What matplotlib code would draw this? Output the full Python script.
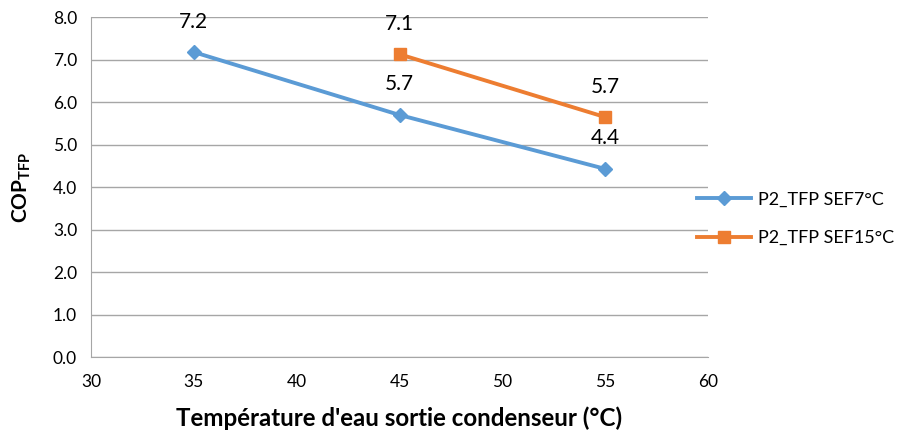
import matplotlib.pyplot as plt

plt.rcParams['font.family'] = ['Lato', 'DejaVu Sans']
plt.rcParams['mathtext.fontset'] = 'custom'
plt.rcParams['mathtext.bf'] = 'Lato:bold'
plt.rcParams['mathtext.rm'] = 'Lato'

# data
temp_7 = [35, 45, 55]
cop_7 = [7.18, 5.70, 4.43]
temp_15 = [45, 55]
cop_15 = [7.13, 5.65]
label_7 = 'P2_TFP SEF7°C'
label_15 = 'P2_TFP SEF15°C'

blue = '#5B9BD5'
orange = '#ED7D31'

fig = plt.figure(figsize=(8.97, 4.38), dpi=100)
ax = fig.add_axes([91/897, 1 - 357/438, (708 - 91)/897, (357 - 17.3)/438])

ax.plot(temp_7, cop_7, color=blue, lw=2.8, marker='D', ms=7, label=label_7, zorder=3)
ax.plot(temp_15, cop_15, color=orange, lw=2.8, marker='s', ms=9, label=label_15, zorder=3)

for x, y in zip(temp_7, cop_7):
    ax.annotate('%.1f' % y, (x, y), xytext=(0, 22), textcoords='offset points',
                ha='center', va='center', fontsize=15)
for x, y in zip(temp_15, cop_15):
    ax.annotate('%.1f' % y, (x, y), xytext=(0, 22), textcoords='offset points',
                ha='center', va='center', fontsize=15)

ax.set_xlim(30, 60)
ax.set_ylim(0, 8)
ax.set_xticks(range(30, 61, 5))
ax.set_yticks([i for i in range(0, 9)])
ax.set_yticklabels(['%.1f' % i for i in range(0, 9)])
ax.tick_params(length=0, labelsize=12.5, pad=10)
ax.tick_params(axis='x', pad=12)
ax.grid(axis='y', color='#A6A6A6', lw=1)
ax.set_axisbelow(True)
for s in ['top', 'right']:
    ax.spines[s].set_visible(False)
for s in ['left', 'bottom']:
    ax.spines[s].set_color('#A6A6A6')

ax.set_xlabel("Température d'eau sortie condenseur (°C)", fontsize=17.4, fontweight='bold', labelpad=12)
ax.set_ylabel(r'COP$_{\mathbf{TFP}}$', fontsize=15, fontweight='bold', labelpad=14)

fig.legend(loc='center left', bbox_to_anchor=(697/897, 0.5), bbox_transform=fig.transFigure,
           frameon=False, fontsize=13, borderpad=0, borderaxespad=0,
           handlelength=3.0, handletextpad=0.4, labelspacing=1.25)

fig.savefig('out.png', dpi=100)
